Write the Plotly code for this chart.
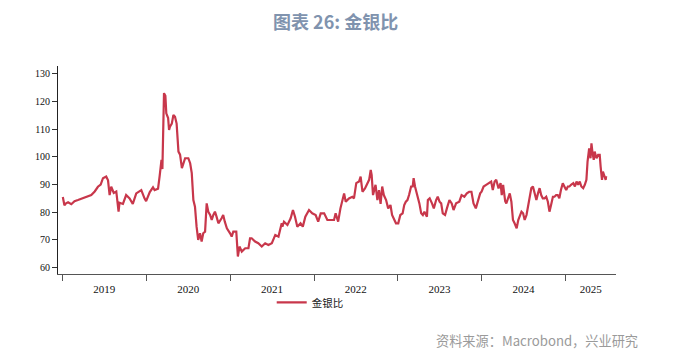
import plotly.graph_objects as go

# ---- data ----
dates = [
    "2019-01-02","2019-01-09","2019-01-16","2019-01-25","2019-02-08","2019-02-22","2019-03-09","2019-03-23",
    "2019-04-07","2019-04-21","2019-05-06","2019-05-21","2019-06-04","2019-06-16","2019-06-26","2019-07-10",
    "2019-07-18","2019-07-25","2019-08-01","2019-08-12","2019-08-23","2019-09-02","2019-09-06","2019-09-21",
    "2019-10-05","2019-10-20","2019-11-03","2019-11-18","2019-12-10","2019-12-24","2019-12-31",
    "2020-01-16","2020-01-30","2020-02-06","2020-02-21","2020-02-28","2020-03-07","2020-03-11","2020-03-18",
    "2020-03-24","2020-03-28","2020-04-05","2020-04-09","2020-04-13","2020-04-21","2020-04-28","2020-05-05",
    "2020-05-12","2020-05-20","2020-05-27","2020-06-04","2020-06-18","2020-07-02","2020-07-10","2020-07-17",
    "2020-07-24","2020-07-31","2020-08-07","2020-08-14","2020-08-22","2020-08-29","2020-09-05","2020-09-13",
    "2020-09-20","2020-09-27","2020-10-05","2020-10-12","2020-10-19","2020-10-26","2020-11-02","2020-11-10",
    "2020-11-24","2020-12-01","2020-12-08","2020-12-17","2020-12-31",
    "2021-01-07","2021-01-14","2021-01-27","2021-02-03","2021-02-10","2021-02-20","2021-03-07","2021-03-21",
    "2021-03-28","2021-04-04","2021-04-19","2021-05-03","2021-05-18","2021-06-02","2021-06-16","2021-07-01",
    "2021-07-16","2021-07-30","2021-08-13","2021-08-16","2021-08-23","2021-09-07","2021-09-21","2021-10-01",
    "2021-10-10","2021-10-20","2021-11-03","2021-11-13","2021-11-24","2021-12-10","2021-12-24",
    "2022-01-08","2022-01-19","2022-01-30","2022-02-14","2022-02-28","2022-03-14","2022-03-29","2022-04-05",
    "2022-04-16","2022-04-26","2022-05-12","2022-05-19","2022-06-02","2022-06-17","2022-06-24","2022-07-04",
    "2022-07-16","2022-07-23","2022-07-31","2022-08-11","2022-08-21","2022-08-29","2022-09-05","2022-09-09",
    "2022-09-15","2022-09-26","2022-10-04","2022-10-11","2022-10-18","2022-10-25","2022-11-01","2022-11-11",
    "2022-11-20","2022-11-30","2022-12-07","2022-12-16","2022-12-24",
    "2023-01-03","2023-01-12","2023-01-22","2023-01-29","2023-02-05","2023-02-12","2023-02-19","2023-02-28",
    "2023-03-07","2023-03-11","2023-03-17","2023-03-26","2023-04-05","2023-04-13","2023-04-20","2023-04-27",
    "2023-05-08","2023-05-12","2023-05-20","2023-05-30","2023-06-07","2023-06-17","2023-06-24","2023-07-02",
    "2023-07-09","2023-07-16","2023-07-26","2023-08-03","2023-08-14","2023-08-24","2023-09-01","2023-09-12",
    "2023-09-26","2023-10-06","2023-10-18","2023-10-29","2023-11-08","2023-11-18","2023-11-27","2023-12-07",
    "2023-12-14","2023-12-26",
    "2024-01-01","2024-01-10","2024-01-21","2024-01-31","2024-02-12","2024-02-19","2024-02-27","2024-03-05",
    "2024-03-15","2024-03-24","2024-03-29","2024-04-04","2024-04-13","2024-04-18","2024-04-26","2024-05-03",
    "2024-05-10","2024-05-17","2024-05-24","2024-06-02","2024-06-09","2024-06-16","2024-06-23","2024-06-30",
    "2024-07-07","2024-07-15","2024-07-22","2024-07-29","2024-08-05","2024-08-12","2024-08-19","2024-08-27",
    "2024-09-03","2024-09-10","2024-09-17","2024-09-24","2024-10-02","2024-10-09","2024-10-16","2024-10-23",
    "2024-10-30","2024-11-07","2024-11-14","2024-11-21","2024-11-28","2024-12-05","2024-12-12","2024-12-20",
    "2024-12-27",
    "2025-01-04","2025-01-11","2025-01-18","2025-01-25","2025-02-04","2025-02-11","2025-02-18","2025-02-25",
    "2025-03-04","2025-03-11","2025-03-19","2025-03-26","2025-04-02","2025-04-07","2025-04-14","2025-04-20",
    "2025-04-24","2025-04-28","2025-05-04","2025-05-08","2025-05-16","2025-05-23","2025-05-30","2025-06-03",
    "2025-06-09","2025-06-13","2025-06-20","2025-06-25","2025-06-27",
]
ratio = [
    85.5, 82.5, 83.2, 83.6, 82.9, 84.0, 84.4, 84.8,
    85.4, 85.6, 86.2, 87.5, 89.2, 90.0, 92.3, 92.9,
    91.5, 86.2, 89.2, 87.0, 87.5, 80.2, 83.4, 83.0,
    86.2, 85.0, 83.0, 86.8, 88.0, 85.0, 84.0,
    87.3, 89.0, 88.0, 88.5, 93.0, 98.9, 95.6, 123.0,
    122.0, 115.7, 114.0, 109.7, 110.9, 112.0, 115.1, 114.5,
    112.0, 101.9, 100.8, 95.9, 99.5, 99.5, 97.7, 94.1,
    84.4, 82.0, 74.8, 70.0, 72.4, 69.4, 72.4, 73.0,
    83.2, 80.2, 79.0, 77.2, 79.0, 80.2, 78.4, 76.0,
    77.8, 79.0, 76.6, 74.2, 72.4,
    71.2, 73.0, 73.0, 64.0, 67.6, 65.8, 67.0, 67.0,
    70.6, 70.6, 69.4, 68.8, 67.6, 68.8, 68.2, 68.8,
    71.8, 71.2, 76.0, 74.8, 76.6, 75.4, 77.8, 80.8,
    78.4, 74.8, 76.0, 74.8, 78.4, 80.8, 79.6,
    79.0, 76.6, 79.6, 79.6, 77.2, 77.2, 77.2, 79.6,
    76.6, 81.4, 86.8, 83.8, 85.0, 85.6, 85.0, 90.5,
    91.1, 92.9, 87.4, 88.6, 90.5, 91.7, 95.3, 93.5,
    86.2, 89.9, 84.4, 88.0, 83.0, 89.3, 86.2, 84.4,
    81.4, 82.6, 79.0, 77.2, 76.0,
    76.0, 79.0, 79.6, 82.6, 83.8, 84.4, 86.2, 89.3,
    89.3, 92.3, 89.3, 86.8, 83.2, 79.6, 79.0, 80.2,
    78.4, 84.4, 85.0, 83.2, 81.4, 84.4, 85.6, 83.8,
    83.2, 79.6, 79.0, 81.4, 84.4, 83.2, 80.8, 83.2,
    83.8, 86.2, 85.6, 86.8, 87.4, 87.4, 83.2, 81.4,
    83.2, 86.8,
    87.4, 89.3, 89.9, 90.5, 91.1, 88.0, 91.1, 91.7,
    88.6, 90.5, 86.2, 89.9, 84.0, 83.2, 85.0, 86.8,
    83.8, 77.2, 76.0, 74.2, 77.2, 79.0, 80.2, 79.6,
    77.2, 79.0, 82.6, 85.6, 88.7, 89.3, 87.4, 84.4,
    86.8, 88.7, 86.2, 85.0, 85.0, 85.6, 83.8, 80.2,
    82.6, 85.6, 85.6, 86.2, 86.2, 85.0, 88.0, 90.5,
    89.3,
    88.0, 89.3, 89.3, 89.9, 90.5, 89.3, 91.1, 89.9,
    91.1, 89.3, 88.7, 89.9, 91.7, 98.3, 103.1, 99.5,
    104.9, 101.9, 98.9, 101.9, 99.5, 100.7, 100.7, 96.5,
    91.7, 94.7, 92.9, 91.7, 93.0,
]
series_name = "金银比"
year_starts = ["2019-01-01", "2020-01-01", "2021-01-01", "2022-01-01",
               "2023-01-01", "2024-01-01", "2025-01-01"]
year_label_pos = ["2019-07-02", "2020-07-02", "2021-07-02", "2022-07-02",
                  "2023-07-02", "2024-07-02", "2025-04-21"]
year_labels = ["2019", "2020", "2021", "2022", "2023", "2024", "2025"]
y_ticks = [60, 70, 80, 90, 100, 110, 120, 130]
x_range = ["2018-12-12", "2025-08-09"]
y_range = [57.7, 132.8]

title_text = "图表 26: 金银比"
source_text = "资料来源：Macrobond，兴业研究"

fig = go.Figure()
fig.add_trace(go.Scatter(
    x=dates, y=ratio, mode="lines", name=series_name,
    line=dict(color="#C8374B", width=2.2),
))

# page has an 8px body margin, so the figure is 667x350 placed at (8, 8)
fig.update_layout(
    width=667, height=350,
    margin=dict(l=50, r=59, t=58, b=84),
    paper_bgcolor="white", plot_bgcolor="white",
    showlegend=True,
    legend=dict(orientation="h", x=0.452, xanchor="center", y=-0.067, yanchor="top",
                font=dict(family="Noto Sans CJK SC", size=10.5, color="#222"),
                bgcolor="rgba(0,0,0,0)"),
    annotations=[
        dict(text="<b>" + title_text + "</b>", xref="paper", yref="paper", x=0.497, y=1.215,
             xanchor="center", yanchor="middle", showarrow=False,
             font=dict(family="Noto Sans CJK SC", size=18, color="#8093AE")),
        dict(text=source_text, xref="paper", yref="paper", x=1.0436, y=-0.322,
             xanchor="right", yanchor="middle", showarrow=False,
             font=dict(family="Noto Sans CJK SC", size=13.2, color="#9A9A9A")),
    ],
)

fig.update_xaxes(
    type="date", range=x_range,
    tickmode="array", tickvals=year_label_pos, ticktext=year_labels, ticks="",
    ticklabelstandoff=5,
    tickfont=dict(family="Liberation Serif", size=11, color="#111"),
    showgrid=False, zeroline=False,
    showline=True, linecolor="#555", linewidth=1.2,
    minor=dict(tickmode="array", tickvals=year_starts, ticks="outside", ticklen=6,
               tickcolor="#555", tickwidth=1.2, showgrid=False),
)
fig.update_yaxes(
    range=y_range, tickmode="array", tickvals=y_ticks,
    ticks="outside", ticklen=5, tickcolor="#333", tickwidth=1,
    tickfont=dict(family="Liberation Serif", size=10, color="#111"),
    showgrid=False, zeroline=False,
    showline=True, linecolor="#222", linewidth=1,
)

fig.write_html("out.html")
